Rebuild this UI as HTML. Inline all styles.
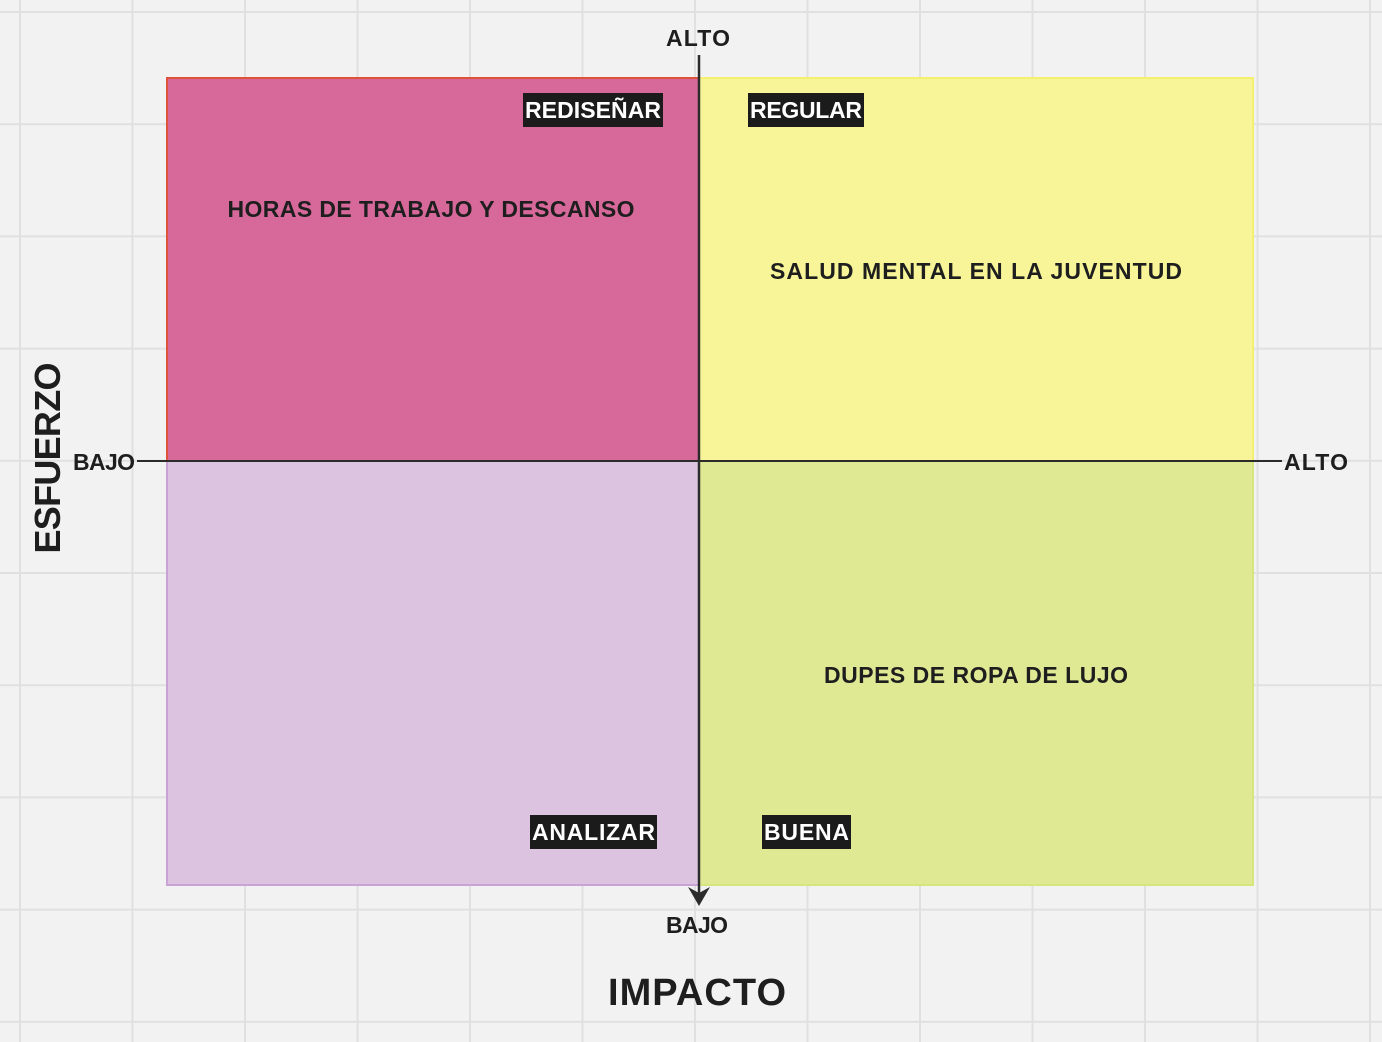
<!DOCTYPE html>
<html><head><meta charset="utf-8"><style>
html,body{margin:0;padding:0;background:#f2f2f2}
svg{display:block}
text{font-family:"Liberation Sans","DejaVu Sans",sans-serif;font-weight:bold;fill:#1e1e1e}
</style></head><body>
<svg id="c" width="1382" height="1042" xmlns="http://www.w3.org/2000/svg">
<rect width="1382" height="1042" fill="#f2f2f2"/>
<g id="grid"></g>
<rect x="167" y="78" width="532" height="383" fill="#d6689a" stroke="#e0533b" stroke-width="2"/>
<rect x="699" y="78" width="554" height="383" fill="#f7f598" stroke="#f5ef70" stroke-width="2"/>
<rect x="167" y="461" width="532" height="424" fill="#dcc4e0" stroke="#c9a3d3" stroke-width="2"/>
<rect x="699" y="461" width="554" height="424" fill="#dfe994" stroke="#d6e67a" stroke-width="2"/>
<line x1="137" y1="461" x2="1282" y2="461" stroke="#2b2b2b" stroke-width="2"/>
<line x1="699" y1="55" x2="699" y2="895" stroke="#2b2b2b" stroke-width="2.5"/>
<path d="M688,887 L699,906 L710,887 L699,893 Z" fill="#2b2b2b"/>
<text x="698" y="46" font-size="23" text-anchor="middle" textLength="64">ALTO</text>
<text x="697" y="933" font-size="23" text-anchor="middle" textLength="62">BAJO</text>
<text x="73" y="470" font-size="23" textLength="62">BAJO</text>
<text x="1284" y="470" font-size="23" textLength="64">ALTO</text>
<text x="697" y="1005" font-size="38" text-anchor="middle" textLength="178">IMPACTO</text>
<text transform="translate(60,458) rotate(-90)" font-size="36" text-anchor="middle" textLength="191">ESFUERZO</text>
<g id="tags"></g>
<g id="items"></g>
</svg>
<script>
const tagNames=["REDISEÑAR","REGULAR","ANALIZAR","BUENA"];
const tagX=[523,748,530,762];
const tagW=[140,116,127,89];
const tagY=[93,93,815,815];
const itemNames=["HORAS DE TRABAJO Y DESCANSO","SALUD MENTAL EN LA JUVENTUD","DUPES DE ROPA DE LUJO"];
const itemX=[431,976,976];
const itemY=[217,279,683];
const itemW=[407,412,304];
const NS="http://www.w3.org/2000/svg";
const grid=document.getElementById('grid');
for(let x=20;x<1382;x+=112.5){const l=document.createElementNS(NS,'line');l.setAttribute('x1',x);l.setAttribute('x2',x);l.setAttribute('y1',0);l.setAttribute('y2',1042);l.setAttribute('stroke','#e0e0e0');l.setAttribute('stroke-width','2');


grid.appendChild(l);}
for(let y=12;y<1042;y+=112.2){const l=document.createElementNS(NS,'line');l.setAttribute('y1',y);l.setAttribute('y2',y);l.setAttribute('x1',0);l.setAttribute('x2',1382);l.setAttribute('stroke','#e0e0e0');l.setAttribute('stroke-width','2');


grid.appendChild(l);}
const tags=document.getElementById('tags');
tagNames.forEach((t,i)=>{const r=document.createElementNS(NS,'rect');r.setAttribute('x',tagX[i]);r.setAttribute('y',tagY[i]);r.setAttribute('width',tagW[i]);r.setAttribute('height',34);r.setAttribute('fill','#1b1b1b');


tags.appendChild(r);
const tx=document.createElementNS(NS,'text');tx.setAttribute('x',tagX[i]+tagW[i]/2);tx.setAttribute('y',tagY[i]+25);tx.setAttribute('font-size','23');tx.setAttribute('text-anchor','middle');tx.setAttribute('textLength',tagW[i]-4);tx.style.fill='#fff';tx.textContent=t;


tags.appendChild(tx);});
const items=document.getElementById('items');
itemNames.forEach((t,i)=>{const tx=document.createElementNS(NS,'text');tx.setAttribute('x',itemX[i]);tx.setAttribute('y',itemY[i]);tx.setAttribute('font-size','23');tx.setAttribute('text-anchor','middle');tx.setAttribute('textLength',itemW[i]);tx.textContent=t;


items.appendChild(tx);});
</script>
</body></html>
